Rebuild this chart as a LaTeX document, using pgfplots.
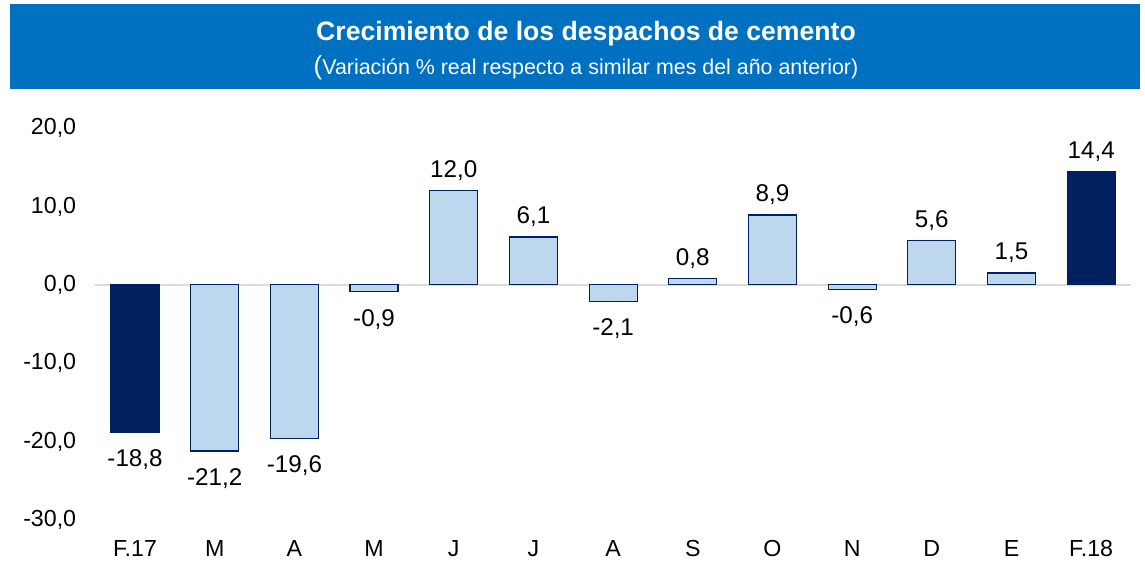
\documentclass[border=0pt]{standalone}
\usepackage{fontspec}
\setmainfont{Liberation Sans}
\usepackage{pgfplots}
\pgfplotsset{compat=1.18}
\definecolor{navy}{RGB}{0,32,96}
\definecolor{lightb}{RGB}{189,215,238}
\definecolor{banner}{RGB}{0,112,192}
\definecolor{zeroline}{RGB}{217,217,217}
\begin{document}
\begin{tikzpicture}
\path[use as bounding box] (0,0) rectangle (572.5pt,281pt);
\fill[banner] (5pt,236.7pt) rectangle (570pt,279pt);
\node[white, font=\fontsize{13.3}{15}\selectfont\bfseries] at (293pt,264pt) {Crecimiento de los despachos de cemento};
\node[white, font=\fontsize{10.7}{12}\selectfont] at (293pt,247pt) {{\fontsize{13}{14}\selectfont(}Variación \% real respecto a similar mes del año anterior)};
\begin{axis}[
  at={(47.6pt,21pt)}, anchor=south west, scale only axis,
  width=517.9pt, height=196pt,
  xmin=-0.5, xmax=12.5, ymin=-30, ymax=20,
  ytick={-30,-20,...,20},
  xtick={0,...,12},
  xticklabels={F.17,M,A,M,J,J,A,S,O,N,D,E,F.18},
  axis line style={draw=none},
  major tick style={draw=none},
  ybar, bar width=24pt, bar shift=0pt,
  ticklabel style={font=\fontsize{11.6}{13}\selectfont},
  xticklabel style={anchor=center, yshift=-10pt},
  yticklabel style={xshift=-6pt},
  /pgf/number format/.cd, fixed, fixed zerofill, precision=1, use comma, assume math mode=true,
  /pgfplots/.cd,
  nodes near coords,
  nodes near coords style={/pgf/number format/.cd, fixed, fixed zerofill, precision=1, use comma, assume math mode=true,
     /tikz/.cd, font=\fontsize{12.1}{13}\selectfont, black},
]
\draw[zeroline, line width=1.2pt] (axis cs:-0.5,0) -- (axis cs:12.5,0);
\addplot[fill=lightb, draw=navy, line width=0.6pt, every node near coord/.append style={/tikz/yshift=1.5pt}] coordinates {
 (4,12.0) (5,6.1) (7,0.8) (8,8.9) (10,5.6) (11,1.5)};
\addplot[fill=lightb, draw=navy, line width=0.6pt, every node near coord/.append style={/tikz/yshift=-5pt}] coordinates {
 (1,-21.2) (2,-19.6) (3,-0.9) (6,-2.1) (9,-0.6)};
\addplot[fill=navy, draw=navy, line width=0.6pt, every node near coord/.append style={/tikz/yshift=-5pt}] coordinates {(0,-18.8)};
\addplot[fill=navy, draw=navy, line width=0.6pt, every node near coord/.append style={/tikz/yshift=1.5pt}] coordinates {(12,14.4)};
\end{axis}
\end{tikzpicture}
\end{document}
